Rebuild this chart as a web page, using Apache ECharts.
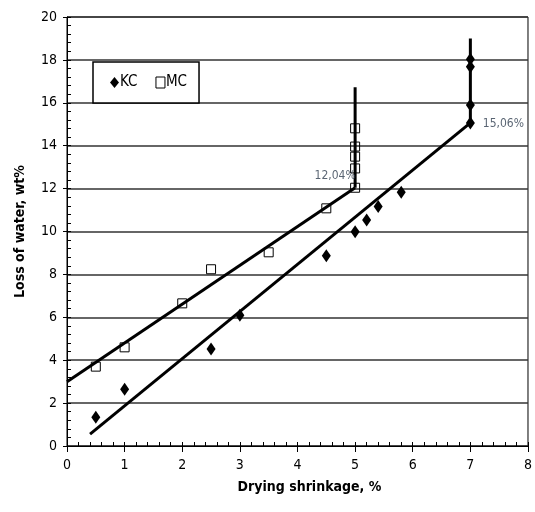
<!DOCTYPE html>
<html><head><meta charset="utf-8">
<script src="https://cdn.jsdelivr.net/npm/echarts@6/dist/echarts.min.js"></script>
<style>html,body{margin:0;padding:0;background:#fff}#c{width:535px;height:512px}</style>
</head><body><div id="c"></div>
<script>
var xTicks = [0,1,2,3,4,5,6,7,8];
var yTicks = [0,2,4,6,8,10,12,14,16,18,20];
var kcPoints = [[0.5,1.34],[1,2.64],[2.5,4.52],[3,6.1],[4.5,8.87],[5,9.99],[5.2,10.54],[5.4,11.16],[5.8,11.83],[7,15.06],[7,15.9],[7,17.68],[7,18.03]];
var mcPoints = [[0.5,3.7],[1,4.6],[2,6.65],[2.5,8.24],[3.5,9.03],[4.5,11.08],[5,12.04],[5,12.94],[5,13.49],[5,13.96],[5,14.81]];
var kcFit = [[0.4,0.55],[7,15.06]];
var mcFit = [[0,3.0],[5,12.04]];
var kcRange = [[7,15.06],[7,19.0]];
var mcRange = [[5,12.04],[5,16.72]];
var notes = [[5,12.04,'12,04%'],[7,15.06,'15,06%']];

var F = "'Liberation Sans Narrow','Arial Narrow','DejaVu Sans Condensed','Liberation Sans',sans-serif";
var chart = echarts.init(document.getElementById('c'));
function lineSeries(d){return {type:'line',data:d,symbol:'none',silent:true,lineStyle:{color:'#000',width:3},z:3};}
chart.setOption({
  animation:false,
  grid:{left:67,right:5,top:17,bottom:66,show:true,borderColor:'#000',borderWidth:1},
  legend:{data:[{name:'KC'},{name:'MC',itemStyle:{borderWidth:1}}],left:93,top:62,orient:'horizontal',
    backgroundColor:'#fff',borderColor:'#000',borderWidth:1.5,padding:[13,12,13,17],
    itemWidth:9,itemHeight:11,itemGap:18,
    textStyle:{fontFamily:F,fontSize:15,color:'#000',padding:[0,0,0,-4]}},
  xAxis:[{type:'value',min:0,max:8,interval:1,
    name:'Drying shrinkage, %',nameLocation:'middle',nameGap:34,
    nameTextStyle:{fontFamily:F,fontSize:14,fontWeight:'bold',color:'#000',padding:[0,0,0,24]},
    axisLine:{lineStyle:{color:'#000',width:1}},
    axisTick:{inside:false,length:6,lineStyle:{color:'#000'}},
    axisLabel:{fontFamily:F,fontSize:14,color:'#000',margin:12},
    splitLine:{show:false}},
    {type:'value',min:0,max:8,interval:0.2,position:'bottom',
    axisLine:{show:false},axisTick:{inside:true,length:4,lineStyle:{color:'#000'}},
    axisLabel:{show:false},splitLine:{show:false}}],
  yAxis:[{type:'value',min:0,max:20,interval:2,
    name:'Loss of water, wt%',nameLocation:'middle',nameGap:40,nameRotate:90,
    nameTextStyle:{fontFamily:F,fontSize:14,fontWeight:'bold',color:'#000'},
    axisLine:{lineStyle:{color:'#000',width:1}},
    axisTick:{inside:false,length:4,lineStyle:{color:'#000'}},
    axisLabel:{fontFamily:F,fontSize:14,color:'#000',margin:10},
    splitLine:{show:true,lineStyle:{color:'#333',width:1.5}}},
    {type:'value',min:0,max:20,interval:0.4,position:'left',
    axisLine:{show:false},axisTick:{inside:true,length:4,lineStyle:{color:'#000'}},
    axisLabel:{show:false},splitLine:{show:false}}],
  series:[
    lineSeries(kcFit), lineSeries(mcFit), lineSeries(kcRange), lineSeries(mcRange),
    {name:'KC',type:'scatter',data:kcPoints,symbol:'diamond',symbolSize:[9,13],
      itemStyle:{color:'#000',opacity:1},z:5},
    {name:'MC',type:'scatter',data:mcPoints,symbol:'rect',symbolSize:9,
      itemStyle:{color:'rgba(255,255,255,0)',borderColor:'#000',borderWidth:1,opacity:1},z:5},
    {type:'scatter',data:notes,symbol:'circle',symbolSize:0,silent:true,z:6,
      label:{show:true,formatter:function(p){return p.data[2];},fontFamily:F,fontSize:12,color:'#2f3d4f'},
      labelLayout:function(p){return p.dataIndex===0?{dx:-20,dy:-12}:{dx:33,dy:1};}}
  ]
});
</script></body></html>
